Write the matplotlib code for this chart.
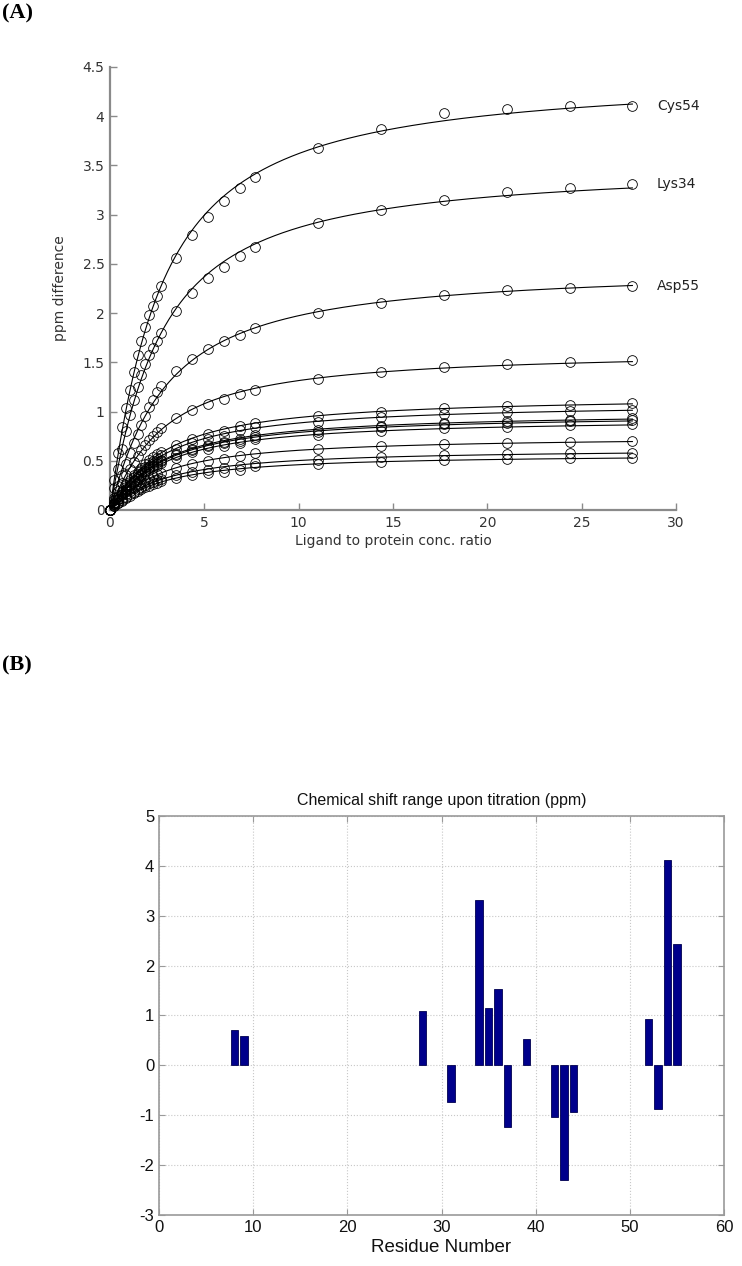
import numpy as np
import matplotlib
matplotlib.use("Agg")
import matplotlib.pyplot as plt

plt.rcParams["axes.unicode_minus"] = False

# ---- panel A data: titration points (ligand/protein ratio vs ppm difference)
ratio = [0, 0.21, 0.42, 0.63, 0.84, 1.04, 1.25, 1.46, 1.67, 1.88, 2.08, 2.29, 2.50, 2.71,
         3.51, 4.36, 5.22, 6.04, 6.87, 7.70, 11.04, 14.37, 17.71, 21.04, 24.38, 27.69]

cys54 = [0, 0.30, 0.58, 0.84, 1.04, 1.22, 1.40, 1.57, 1.72, 1.86, 1.98, 2.07, 2.17, 2.27,
         2.56, 2.79, 2.98, 3.14, 3.27, 3.38, 3.68, 3.87, 4.03, 4.07, 4.10, 4.10]
lys34 = [0, 0.22, 0.42, 0.62, 0.80, 0.96, 1.12, 1.25, 1.37, 1.48, 1.57, 1.65, 1.72, 1.80,
         2.02, 2.20, 2.36, 2.47, 2.58, 2.67, 2.91, 3.05, 3.15, 3.23, 3.27, 3.31]
asp55 = [0, 0.12, 0.24, 0.36, 0.47, 0.58, 0.68, 0.77, 0.86, 0.95, 1.05, 1.12, 1.20, 1.26,
         1.41, 1.53, 1.63, 1.72, 1.78, 1.85, 2.00, 2.10, 2.18, 2.23, 2.25, 2.27]
res36 = [0, 0.10, 0.19, 0.27, 0.35, 0.42, 0.49, 0.55, 0.61, 0.66, 0.71, 0.75, 0.79, 0.83,
         0.93, 1.02, 1.08, 1.13, 1.18, 1.22, 1.33, 1.40, 1.45, 1.48, 1.50, 1.52]
res35 = [0, 0.07, 0.14, 0.19, 0.25, 0.30, 0.35, 0.39, 0.43, 0.47, 0.51, 0.535, 0.565, 0.59,
         0.66, 0.72, 0.77, 0.80, 0.85, 0.88, 0.95, 1.00, 1.035, 1.06, 1.07, 1.085]
res28 = [0, 0.067, 0.13, 0.18, 0.235, 0.28, 0.33, 0.37, 0.41, 0.44, 0.48, 0.50, 0.53, 0.56,
         0.62, 0.68, 0.72, 0.755, 0.81, 0.845, 0.89, 0.94, 0.97, 0.99, 1.005, 1.02]
res52 = [0, 0.06, 0.115, 0.165, 0.21, 0.255, 0.30, 0.335, 0.37, 0.40, 0.435, 0.46, 0.485, 0.505,
         0.565, 0.62, 0.66, 0.69, 0.72, 0.765, 0.815, 0.855, 0.885, 0.905, 0.915, 0.93]
res44 = [0, 0.06, 0.115, 0.16, 0.21, 0.25, 0.29, 0.33, 0.36, 0.395, 0.425, 0.45, 0.47, 0.495,
         0.555, 0.61, 0.645, 0.675, 0.705, 0.745, 0.795, 0.84, 0.87, 0.885, 0.90, 0.91]
res53 = [0, 0.057, 0.11, 0.155, 0.20, 0.24, 0.28, 0.315, 0.35, 0.38, 0.405, 0.43, 0.45, 0.475,
         0.53, 0.585, 0.62, 0.645, 0.675, 0.72, 0.76, 0.80, 0.83, 0.845, 0.86, 0.87]
res31 = [0, 0.046, 0.088, 0.125, 0.16, 0.195, 0.225, 0.25, 0.28, 0.305, 0.325, 0.345, 0.365, 0.38,
         0.43, 0.47, 0.50, 0.52, 0.545, 0.575, 0.615, 0.645, 0.665, 0.68, 0.69, 0.70]
res9 = [0, 0.038, 0.073, 0.103, 0.133, 0.16, 0.185, 0.21, 0.23, 0.25, 0.27, 0.285, 0.30, 0.315,
        0.355, 0.39, 0.41, 0.43, 0.45, 0.475, 0.505, 0.535, 0.555, 0.565, 0.575, 0.58]
res39 = [0, 0.035, 0.066, 0.094, 0.122, 0.146, 0.17, 0.19, 0.21, 0.23, 0.247, 0.26, 0.275, 0.29,
         0.325, 0.355, 0.375, 0.39, 0.41, 0.445, 0.465, 0.49, 0.505, 0.515, 0.525, 0.53]

curves = [cys54, lys34, asp55, res36, res35, res28, res52, res44, res53, res31, res9, res39]
curve_names = ["Cys54", "Lys34", "Asp55"]

# ---- panel B data: chemical shift range per residue
residues = [8, 9, 28, 31, 34, 35, 36, 37, 39, 42, 43, 44, 52, 53, 54, 55]
shift_range = [0.71, 0.59, 1.08, -0.74, 3.31, 1.15, 1.53, -1.23, 0.53,
               -1.03, -2.29, -0.93, 0.93, -0.88, 4.11, 2.43]


def binding(x, K):
    # fraction bound, 1:1 complex, protein conc. = 1 (ratio units)
    s = 1.0 + x + K
    return (s - np.sqrt(s * s - 4.0 * x)) / 2.0


def fit_binding(x, y):
    # grid over K, least squares for the max shift
    x = np.asarray(x, float)
    y = np.asarray(y, float)
    best = None
    for K in np.linspace(0.05, 20, 800):
        f = binding(x, K)
        B = (f @ y) / (f @ f)
        sse = np.sum((y - B * f) ** 2)
        if best is None or sse < best[0]:
            best = (sse, B, K)
    return best[1], best[2]


fig = plt.figure(figsize=(7.42, 12.66), dpi=100)

# ================= panel A =================
axA = fig.add_axes([0.1482, 0.5972, 0.7628, 0.3499])
gray = "#8a8a8a"
xs = np.linspace(0, ratio[-1], 400)
for y in curves:
    B, K = fit_binding(ratio, y)
    axA.plot(xs, B * binding(xs, K), color="black", lw=0.8, zorder=2)
    axA.plot(ratio, y, linestyle="none", marker="o", ms=7, mfc="none",
             mec="black", mew=0.6, zorder=3, clip_on=False)

for name, y in zip(curve_names, curves[:3]):
    axA.text(29.0, y[-1], name, fontsize=10, va="center", ha="left",
             color="#222222", clip_on=False)

axA.set_xlim(0, 30)
axA.set_ylim(0, 4.5)
axA.set_xticks(range(0, 31, 5))
axA.set_yticks(np.arange(0, 4.51, 0.5))
axA.set_yticklabels(["0", "0.5", "1", "1.5", "2", "2.5", "3", "3.5", "4", "4.5"])
for s in ["top", "right"]:
    axA.spines[s].set_visible(False)
for s in ["left", "bottom"]:
    axA.spines[s].set_color(gray)
    axA.spines[s].set_linewidth(1.6)
axA.tick_params(direction="in", length=5, width=1, color=gray,
                labelsize=10, labelcolor="#333333", pad=4)
axA.set_xlabel("Ligand to protein conc. ratio", fontsize=10, color="#333333", labelpad=3)
axA.set_ylabel("ppm difference", fontsize=10, color="#333333")
axA.yaxis.set_label_coords(-0.076, 0.5)

fig.text(0.003, 0.9895, "(A)", fontsize=16, fontweight="bold",
         family="Liberation Serif", ha="left", va="center")

# ================= panel B =================
axB = fig.add_axes([0.2143, 0.0403, 0.7615, 0.3152])
axB.bar(residues, shift_range, width=0.8, color="#00008b", edgecolor="#000050",
        linewidth=0.6, zorder=3)
axB.set_xlim(0, 60)
axB.set_ylim(-3, 5)
axB.set_xticks(range(0, 61, 10))
axB.set_yticks(range(-3, 6))
axB.grid(True, linestyle=":", color="#c8c8c8", linewidth=0.8, zorder=0)
for s in axB.spines.values():
    s.set_color("#9a9a9a")
    s.set_linewidth(1.2)
axB.tick_params(direction="in", length=4, color="#9a9a9a", top=True, right=True,
                labelsize=12, labelcolor="#111111")
for lab in axB.get_xticklabels() + axB.get_yticklabels():
    lab.set_family("Liberation Sans")
axB.set_title("Chemical shift range upon titration (ppm)", fontsize=11.5,
              family="Liberation Sans", color="#111111", pad=8)
axB.set_xlabel("Residue Number", fontsize=13.5, family="Liberation Sans",
               color="#111111", labelpad=3)

fig.text(0.003, 1 - 665 / 1266, "(B)", fontsize=16, fontweight="bold",
         family="Liberation Serif", ha="left", va="center")

fig.savefig("out.png", dpi=100)
